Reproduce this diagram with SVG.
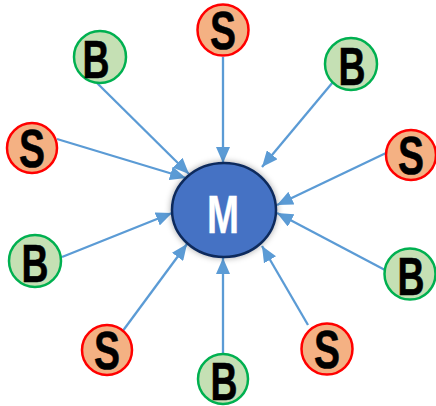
<svg xmlns="http://www.w3.org/2000/svg" width="436" height="406" viewBox="0 0 436 406">
<style>
.s circle{fill:#F4B183;stroke:#FF0000;stroke-width:2.5}
.b circle{fill:#C5E0B4;stroke:#00B050;stroke-width:2.5}
.t{font-family:"Liberation Sans",Arial,sans-serif;font-weight:bold;font-size:53px;text-anchor:middle;fill:#000;stroke:#000;stroke-width:0.6}
.m{fill:#fff;stroke:#fff;stroke-width:0.4;font-size:53px}
#edges line{stroke:#5B9BD5;stroke-width:2.3;marker-end:url(#ah)}
</style>
<defs>
<marker id="ah" markerUnits="userSpaceOnUse" markerWidth="16" markerHeight="14" refX="16" refY="7" orient="auto">
<path d="M0,0 L16,7 L0,14 z" fill="#5B9BD5"/>
</marker>
<filter id="sh" x="-20%" y="-20%" width="140%" height="140%">
<feDropShadow dx="0" dy="0" stdDeviation="3" flood-color="#000" flood-opacity="0.35"/>
</filter>
</defs>
<g id="edges">
<line x1="223" y1="57" x2="223" y2="163"/>
<line x1="97" y1="83" x2="189" y2="174"/>
<line x1="57" y1="139" x2="186" y2="178"/>
<line x1="62" y1="257" x2="172" y2="213"/>
<line x1="122" y1="332" x2="187" y2="244"/>
<line x1="223" y1="353" x2="223" y2="258"/>
<line x1="308" y1="325" x2="262" y2="246"/>
<line x1="385" y1="270" x2="277" y2="213"/>
<line x1="386" y1="153" x2="277" y2="205"/>
<line x1="333" y1="82" x2="262" y2="167"/>
</g>
<g id="M">
<ellipse cx="224" cy="210" rx="52" ry="47" fill="#4472C4" stroke="#0E2A5C" stroke-width="2.5" filter="url(#sh)"/>
<text class="t m" x="223" y="233" textLength="32" lengthAdjust="spacingAndGlyphs">M</text>
</g>
<g id="S1" class="s"><circle cx="223" cy="30" r="25.5"/><text class="t" x="223" y="49" textLength="26" lengthAdjust="spacingAndGlyphs">S</text></g>
<g id="B1" class="b"><circle cx="100" cy="57" r="26"/><text class="t" x="96" y="78" textLength="27" lengthAdjust="spacingAndGlyphs">B</text></g>
<g id="S2" class="s"><circle cx="32" cy="148" r="25"/><text class="t" x="32" y="167" textLength="26" lengthAdjust="spacingAndGlyphs">S</text></g>
<g id="B2" class="b"><circle cx="35" cy="261" r="26"/><text class="t" x="35" y="282" textLength="27" lengthAdjust="spacingAndGlyphs">B</text></g>
<g id="S3" class="s"><circle cx="107" cy="350" r="25"/><text class="t" x="107" y="369" textLength="26" lengthAdjust="spacingAndGlyphs">S</text></g>
<g id="B3" class="b"><circle cx="223" cy="379" r="25"/><text class="t" x="224" y="400" textLength="27" lengthAdjust="spacingAndGlyphs">B</text></g>
<g id="S4" class="s"><circle cx="327" cy="349" r="25.5"/><text class="t" x="327" y="368" textLength="26" lengthAdjust="spacingAndGlyphs">S</text></g>
<g id="B4" class="b"><circle cx="410" cy="274" r="25.5"/><text class="t" x="411" y="295" textLength="27" lengthAdjust="spacingAndGlyphs">B</text></g>
<g id="S5" class="s"><circle cx="411" cy="155" r="25"/><text class="t" x="411" y="174" textLength="26" lengthAdjust="spacingAndGlyphs">S</text></g>
<g id="B5" class="b"><circle cx="351" cy="64" r="26"/><text class="t" x="352" y="85" textLength="27" lengthAdjust="spacingAndGlyphs">B</text></g>
</svg>
